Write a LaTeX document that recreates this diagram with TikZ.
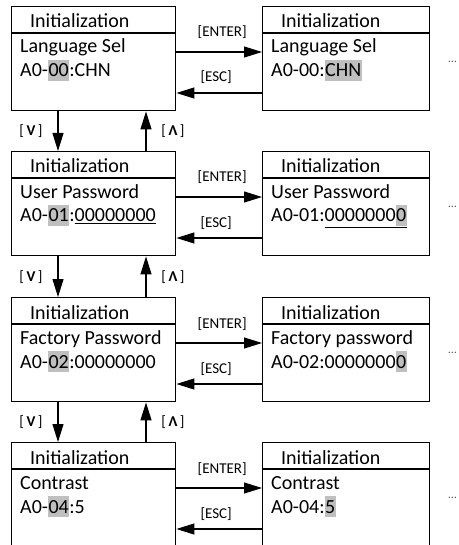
\documentclass[tikz,border=0pt]{standalone}
\usepackage{fontspec}
\setmainfont{Carlito}
\usepackage{tikz}
\usetikzlibrary{arrows.meta}
\definecolor{hlgray}{RGB}{191,191,191}
\definecolor{dotgray}{RGB}{90,90,90}
\setlength{\fboxsep}{0pt}
\newcommand{\hlbox}[1]{\colorbox{hlgray}{\rule[-4pt]{0pt}{21pt}\kern0.5pt#1\kern0.5pt}}
\begin{document}
\begin{tikzpicture}[x=1pt,y=-1pt,
	screen/.style={draw, line width=1.4pt, minimum width=#1, minimum height=104pt, anchor=north west, inner sep=0pt},
	txt/.style={font=\fontsize{20}{24}\selectfont, anchor=base west, inner sep=0pt},
	lbl/.style={font=\fontsize{15}{18}\selectfont, inner sep=0pt},
	flow/.style={line width=1.1pt, -{Triangle[length=18pt,width=11pt]}}]
	%\draw[help lines] (0,0) grid[step=50] (458,545);
	\useasboundingbox (0,0) rectangle (458,545);
	% left column
	\node[screen=164pt] (L1) at (11,6) {};
	\node[screen=164pt] (L2) at (11,151) {};
	\node[screen=164pt] (L3) at (11,297) {};
	\node[screen=164pt] (L4) at (11,442) {};
	% right column
	\node[screen=167pt] (R1) at (262,6) {};
	\node[screen=167pt] (R2) at (262,151) {};
	\node[screen=167pt] (R3) at (262,297) {};
	\node[screen=167pt] (R4) at (262,442) {};
	% header lines
	\draw[line width=1.4pt] ([yshift=-27pt]L1.north west) -- ([yshift=-27pt]L1.north east);
	\draw[line width=1.4pt] ([yshift=-27pt]L2.north west) -- ([yshift=-27pt]L2.north east);
	\draw[line width=1.4pt] ([yshift=-27pt]L3.north west) -- ([yshift=-27pt]L3.north east);
	\draw[line width=1.4pt] ([yshift=-27pt]L4.north west) -- ([yshift=-27pt]L4.north east);
	\draw[line width=1.4pt] ([yshift=-27pt]R1.north west) -- ([yshift=-27pt]R1.north east);
	\draw[line width=1.4pt] ([yshift=-27pt]R2.north west) -- ([yshift=-27pt]R2.north east);
	\draw[line width=1.4pt] ([yshift=-27pt]R3.north west) -- ([yshift=-27pt]R3.north east);
	\draw[line width=1.4pt] ([yshift=-27pt]R4.north west) -- ([yshift=-27pt]R4.north east);
	% texts, row 1
	\node[txt] (L1h) at ([xshift=19pt,yshift=-22pt]L1.north west) {Initialization};
	\node[txt] (L1a) at ([xshift=9pt,yshift=-47pt]L1.north west) {Language Sel};
	\node[txt] (L1b) at ([xshift=9pt,yshift=-71pt]L1.north west) {A0-\hlbox{00}:CHN};
	\node[txt] (R1h) at ([xshift=19pt,yshift=-22pt]R1.north west) {Initialization};
	\node[txt] (R1a) at ([xshift=9pt,yshift=-47pt]R1.north west) {Language Sel};
	\node[txt] (R1b) at ([xshift=9pt,yshift=-71pt]R1.north west) {A0-00:\hlbox{CHN}};
	% texts, row 2
	\node[txt] (L2h) at ([xshift=19pt,yshift=-22pt]L2.north west) {Initialization};
	\node[txt] (L2a) at ([xshift=9pt,yshift=-47pt]L2.north west) {User Password};
	\node[txt] (L2b) at ([xshift=9pt,yshift=-71pt]L2.north west) {A0-\hlbox{01}:\underline{00000000}};
	\node[txt] (R2h) at ([xshift=19pt,yshift=-22pt]R2.north west) {Initialization};
	\node[txt] (R2a) at ([xshift=9pt,yshift=-47pt]R2.north west) {User Password};
	\node[txt] (R2b) at ([xshift=9pt,yshift=-71pt]R2.north west) {A0-01:\underline{0000000\hlbox{0}}};
	% texts, row 3
	\node[txt] (L3h) at ([xshift=19pt,yshift=-22pt]L3.north west) {Initialization};
	\node[txt] (L3a) at ([xshift=9pt,yshift=-47pt]L3.north west) {Factory Password};
	\node[txt] (L3b) at ([xshift=9pt,yshift=-71pt]L3.north west) {A0-\hlbox{02}:00000000};
	\node[txt] (R3h) at ([xshift=19pt,yshift=-22pt]R3.north west) {Initialization};
	\node[txt] (R3a) at ([xshift=9pt,yshift=-47pt]R3.north west) {Factory password};
	\node[txt] (R3b) at ([xshift=9pt,yshift=-71pt]R3.north west) {A0-02:0000000\hlbox{0}};
	% texts, row 4
	\node[txt] (L4h) at ([xshift=19pt,yshift=-22pt]L4.north west) {Initialization};
	\node[txt] (L4a) at ([xshift=9pt,yshift=-47pt]L4.north west) {Contrast};
	\node[txt] (L4b) at ([xshift=9pt,yshift=-71pt]L4.north west) {A0-\hlbox{04}:5};
	\node[txt] (R4h) at ([xshift=19pt,yshift=-22pt]R4.north west) {Initialization};
	\node[txt] (R4a) at ([xshift=9pt,yshift=-47pt]R4.north west) {Contrast};
	\node[txt] (R4b) at ([xshift=9pt,yshift=-71pt]R4.north west) {A0-04:\hlbox{5}};
	% dots
	\node[lbl, text=dotgray, font=\fontsize{12}{14}\selectfont] (D1) at ([xshift=22pt,yshift=-56pt]R1.north east) {…};
	\node[lbl, text=dotgray, font=\fontsize{12}{14}\selectfont] (D2) at ([xshift=22pt,yshift=-56pt]R2.north east) {…};
	\node[lbl, text=dotgray, font=\fontsize{12}{14}\selectfont] (D3) at ([xshift=22pt,yshift=-56pt]R3.north east) {…};
	\node[lbl, text=dotgray, font=\fontsize{12}{14}\selectfont] (D4) at ([xshift=22pt,yshift=-56pt]R4.north east) {…};
	% ENTER / ESC
	\draw[flow] ([yshift=-46pt]L1.north east) -- node[lbl, anchor=base, xshift=3pt, yshift=15pt] {[ENTER]} ([yshift=-46pt]R1.north west);
	\draw[flow] ([yshift=-87pt]R1.north west) -- node[lbl, anchor=base, xshift=-3pt, yshift=11pt] {[ESC]} ([yshift=-87pt]L1.north east);
	\draw[flow] ([yshift=-46pt]L2.north east) -- node[lbl, anchor=base, xshift=3pt, yshift=15pt] {[ENTER]} ([yshift=-46pt]R2.north west);
	\draw[flow] ([yshift=-87pt]R2.north west) -- node[lbl, anchor=base, xshift=-3pt, yshift=11pt] {[ESC]} ([yshift=-87pt]L2.north east);
	\draw[flow] ([yshift=-46pt]L3.north east) -- node[lbl, anchor=base, xshift=3pt, yshift=15pt] {[ENTER]} ([yshift=-46pt]R3.north west);
	\draw[flow] ([yshift=-87pt]R3.north west) -- node[lbl, anchor=base, xshift=-3pt, yshift=11pt] {[ESC]} ([yshift=-87pt]L3.north east);
	\draw[flow] ([yshift=-46pt]L4.north east) -- node[lbl, anchor=base, xshift=3pt, yshift=15pt] {[ENTER]} ([yshift=-46pt]R4.north west);
	\draw[flow] ([yshift=-87pt]R4.north west) -- node[lbl, anchor=base, xshift=-3pt, yshift=11pt] {[ESC]} ([yshift=-87pt]L4.north east);
	% down / up
	\draw[flow] ([xshift=47pt]L1.south west) -- node[lbl, xshift=-27pt] {[\,\textbf{V}\,]} ([xshift=47pt]L2.north west);
	\draw[flow] ([xshift=135pt]L2.north west) -- node[lbl, xshift=27pt] {[\,\textbf{Λ}\,]} ([xshift=135pt]L1.south west);
	\draw[flow] ([xshift=47pt]L2.south west) -- node[lbl, xshift=-27pt] {[\,\textbf{V}\,]} ([xshift=47pt]L3.north west);
	\draw[flow] ([xshift=135pt]L3.north west) -- node[lbl, xshift=27pt] {[\,\textbf{Λ}\,]} ([xshift=135pt]L2.south west);
	\draw[flow] ([xshift=47pt]L3.south west) -- node[lbl, xshift=-27pt] {[\,\textbf{V}\,]} ([xshift=47pt]L4.north west);
	\draw[flow] ([xshift=135pt]L4.north west) -- node[lbl, xshift=27pt] {[\,\textbf{Λ}\,]} ([xshift=135pt]L3.south west);
\end{tikzpicture}
\end{document}
